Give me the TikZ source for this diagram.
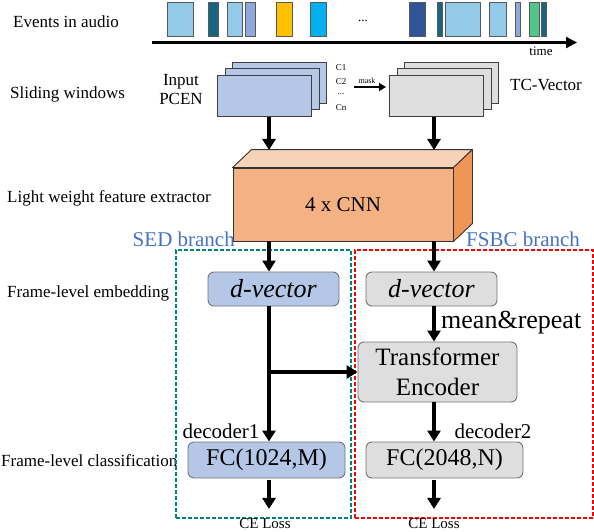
\documentclass[tikz,border=0pt]{standalone}
\usepackage{fontspec}
\setmainfont{Liberation Serif}
\usetikzlibrary{arrows.meta}
\definecolor{evlight}{HTML}{92CAE8}
\definecolor{evteal}{HTML}{17657F}
\definecolor{evlav}{HTML}{8FA9DB}
\definecolor{evgold}{HTML}{FFC000}
\definecolor{evcyan}{HTML}{00B0F0}
\definecolor{evdark}{HTML}{2F5597}
\definecolor{evgreen}{HTML}{52C48C}
\definecolor{inpblue}{HTML}{B4C7E7}
\definecolor{tcgray}{HTML}{DEDEDE}
\definecolor{cnnfront}{HTML}{F4B183}
\definecolor{cnntop}{HTML}{F8D2B8}
\definecolor{cnnside}{HTML}{EF9555}
\definecolor{brblue}{HTML}{4472C4}
\definecolor{sedteal}{HTML}{00827F}
\definecolor{fsred}{HTML}{FF0000}
\begin{document}
\begin{tikzpicture}[x=1pt,y=-1pt,
  lbl/.style={font=\fontsize{17}{20}\selectfont, inner sep=0pt, anchor=base west},
  txt/.style={inner sep=0pt, anchor=base},
  evt/.style={draw=black!65, line width=0.9pt, inner sep=0pt, anchor=north west, minimum height=34pt},
  arr/.style={line width=3.3pt, -{Triangle[length=11pt,width=13pt]}},
  smallarr/.style={line width=2pt, -{Triangle[length=7pt,width=8pt]}},
  sheet/.style={draw=black!75, line width=0.9pt, inner sep=0pt, minimum width=94pt, minimum height=41pt, anchor=north west},
  rbox/.style={draw=black!55, line width=0.9pt, rounded corners=6pt, inner sep=0pt},
  dbox/.style={line width=2pt, dash pattern=on 4pt off 2pt, inner sep=0pt, anchor=north west}]
\useasboundingbox (0,0) rectangle (594,532);

% left row labels
\node[lbl] (l1) at (13,28) {Events in audio};
\node[lbl] (l2) at (10,99) {Sliding windows};
\node[lbl] (l3) at (7,202) {Light weight feature extractor};
\node[lbl] (l4) at (7,297) {Frame-level embedding};
\node[lbl] (l5) at (1,466) {Frame-level classification};

% events
\node[evt, fill=evlight, minimum width=26pt] (e1) at (167,2) {};
\node[evt, fill=evteal, minimum width=10pt] (e2) at (208,2) {};
\node[evt, fill=evlight, minimum width=15pt] (e3) at (227,2) {};
\node[evt, fill=evlav, minimum width=10pt] (e4) at (245,2) {};
\node[evt, fill=evgold, minimum width=16pt] (e5) at (276,2) {};
\node[evt, fill=evcyan, minimum width=16pt] (e6) at (310,2) {};
\node[txt, font=\fontsize{13}{15}\selectfont] (dots) at (363,22) {...};
\node[evt, fill=evdark, minimum width=16pt] (e7) at (409,2) {};
\node[evt, fill=evteal, minimum width=5pt] (e8) at (437,2) {};
\node[evt, fill=evlight, minimum width=35pt] (e9) at (445,2) {};
\node[evt, fill=evlight, minimum width=17pt] (e10) at (489,2) {};
\node[evt, fill=evlav, minimum width=5pt] (e11) at (515,2) {};
\node[evt, fill=evgreen, minimum width=10pt] (e12) at (529,2) {};
\node[evt, fill=evteal, minimum width=5pt] (e13) at (541,2) {};
\coordinate (t0) at (152,42.5);
\coordinate (t1) at (577,42.5);
\draw[line width=2.2pt, -{Triangle[length=11pt,width=11pt]}] (t0) -- (t1);
\node[txt, font=\fontsize{13}{15}\selectfont] (time) at (541,56) {time};

% sliding windows
\node[sheet, fill=inpblue] (inp2) at (232,62) {};
\node[sheet, fill=inpblue] (inp1) at (224.5,68.5) {};
\node[sheet, fill=inpblue] (inp) at (217,75) {};
\node[txt, font=\fontsize{17}{20}\selectfont] (input) at (181,86) {Input};
\node[txt, font=\fontsize{17}{20}\selectfont] (pcen) at (181,105) {PCEN};
\node[txt, font=\fontsize{9}{10}\selectfont] (c1) at (341,71) {C1};
\node[txt, font=\fontsize{9}{10}\selectfont] (c2) at (341,85) {C2};
\node[txt, font=\fontsize{9}{10}\selectfont] (cd) at (341,95) {...};
\node[txt, font=\fontsize{9}{10}\selectfont] (cn) at (341,111) {Cn};
\node[txt, font=\fontsize{8}{9}\selectfont] (mask) at (367,84) {mask};
\coordinate (m0) at (354,87);
\coordinate (m1) at (386,87);
\draw[smallarr] (m0) -- (m1);
\node[sheet, fill=tcgray] (tc2) at (404,62) {};
\node[sheet, fill=tcgray] (tc1) at (396.5,68.5) {};
\node[sheet, fill=tcgray] (tc) at (389,75) {};
\node[txt, font=\fontsize{17}{20}\selectfont] (tcv) at (546,91) {TC-Vector};

% columns
\coordinate (colL) at (269,0);
\coordinate (colR) at (434,0);

% CNN block
\node[draw=black!80, line width=0.9pt, fill=cnnfront, minimum width=220pt, minimum height=73pt, inner sep=0pt,
      font=\fontsize{21}{24}\selectfont] (cnn) at (343,204.5) {4 x CNN};
\draw[draw=black!80, line width=0.9pt, fill=cnntop, line join=round]
  (cnn.north west) -- ++(19,-18) -- ([shift={(19,-18)}]cnn.north east) -- (cnn.north east) -- cycle;
\draw[draw=black!80, line width=0.9pt, fill=cnnside, line join=round]
  (cnn.north east) -- ++(19,-18) -- ([shift={(19,-18)}]cnn.south east) -- (cnn.south east) -- cycle;
\coordinate (ctop) at (343,150);
\draw[arr] (colL |- inp.south) -- (colL |- ctop);
\draw[arr] (colR |- tc.south) -- (colR |- ctop);

% branches
\node[dbox, draw=sedteal, minimum width=175pt, minimum height=268pt] (sedbox) at (175,249) {};
\node[dbox, draw=fsred, minimum width=238pt, minimum height=268pt] (fsbox) at (354,249) {};
\node[inner sep=0pt, anchor=base east, text=brblue, font=\fontsize{21}{24}\selectfont] (sedlab) at (235,246.5) {SED branch};
\node[inner sep=0pt, anchor=base west, text=brblue, font=\fontsize{21}{24}\selectfont] (fslab) at (466,246.5) {FSBC branch};

% boxes
\node[rbox, fill=inpblue, minimum width=131pt, minimum height=34pt, font=\fontsize{26}{30}\selectfont\itshape] (dvl) at (273.5,289) {d-vector};
\node[rbox, fill=tcgray, minimum width=131pt, minimum height=34pt, font=\fontsize{26}{30}\selectfont\itshape] (dvr) at (431.5,289) {d-vector};
\node[rbox, fill=tcgray, minimum width=159pt, minimum height=60pt, align=center, font=\fontsize{25}{30.5}\selectfont] (trans) at (437.5,372) {Transformer\\Encoder};
\node[rbox, fill=inpblue, minimum width=157pt, minimum height=36pt, font=\fontsize{24}{28}\selectfont] (fcl) at (266.5,460) {FC(1024,M)};
\node[rbox, fill=tcgray, minimum width=157pt, minimum height=36pt, font=\fontsize{24}{28}\selectfont] (fcr) at (444.5,460) {FC(2048,N)};
\node[inner sep=0pt, anchor=base west, font=\fontsize{26}{30}\selectfont] (mr) at (441,328) {mean\&repeat};
\node[txt, font=\fontsize{21}{24}\selectfont] (dec1) at (221,438) {decoder1};
\node[txt, font=\fontsize{21}{24}\selectfont] (dec2) at (493,438) {decoder2};
\node[txt, font=\fontsize{15}{17}\selectfont] (cel) at (265,528.6) {CE Loss};
\node[txt, font=\fontsize{15}{17}\selectfont] (cer) at (434,528.6) {CE Loss};

% arrows
\draw[arr] (colL |- cnn.south) -- (colL |- dvl.north);
\draw[arr] (colR |- cnn.south) -- (colR |- dvr.north);
\draw[arr] (colL |- dvl.south) -- (colL |- fcl.north);
\draw[arr] (colL |- trans.west) -- (trans.west);
\draw[arr] (colR |- dvr.south) -- (colR |- trans.north);
\draw[arr] (colR |- trans.south) -- (colR |- fcr.north);
\draw[arr] ([yshift=-2pt]colL |- fcl.south) -- ([yshift=9.5pt]colL |- cel.north);
\draw[arr] ([yshift=-2pt]colR |- fcr.south) -- ([yshift=9.5pt]colR |- cer.north);
\end{tikzpicture}
\end{document}
